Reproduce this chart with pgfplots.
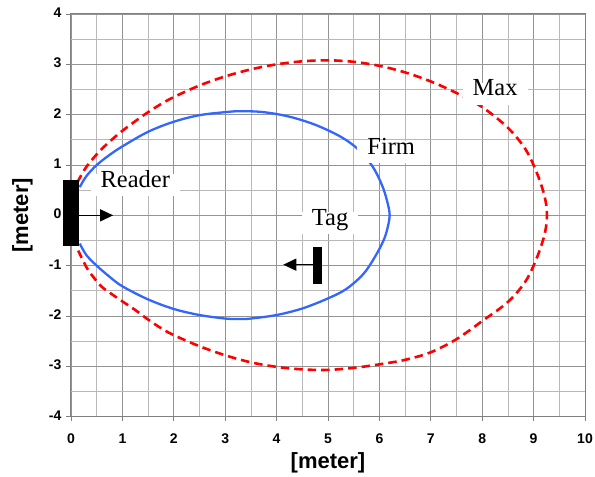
\documentclass[border=0pt]{standalone}
\usepackage{fontspec}
\setmainfont{Liberation Serif}
\setsansfont{Liberation Sans}
\usepackage{pgfplots}
\pgfplotsset{compat=1.18}
\usetikzlibrary{arrows.meta}
\definecolor{firmblue}{RGB}{51,102,255}
\definecolor{maxred}{RGB}{255,0,0}
\begin{document}
\begin{tikzpicture}
\path[use as bounding box] (-71pt,-60.3pt) rectangle (524pt,416.7pt);
\begin{axis}[
  at={(0,0)}, anchor=south west,
  scale only axis, width=514pt, height=402.7pt,
  xmin=0, xmax=10, ymin=-4, ymax=4,
  xtick={0,1,...,10}, ytick={-4,-3,...,4},
  yticklabels={-4,-3,-2,-1,0,1,2,3,4},
  xticklabels={0,1,2,3,4,5,6,7,8,9,10},
  minor xtick={0.5,1.5,...,9.5}, minor ytick={-3.5,-2.5,...,3.5},
  grid=both,
  major grid style={color=black!42, line width=0.8pt},
  minor grid style={color=black!28, line width=0.8pt},
  axis line style={color=black!50, line width=1pt},
  tick style={color=black!50, line width=0.8pt},
  major tick length=4.5pt, minor tick length=0pt,
  tick align=outside,
  xtick pos=bottom, ytick pos=left,
  ticklabel style={font=\sffamily\bfseries\fontsize{14}{16}\selectfont, text height=0.72em, text depth=0pt, inner sep=0pt},
  xticklabel style={anchor=center, yshift=-18.5pt},
  yticklabel style={anchor=east, xshift=-5pt},
  xlabel={[meter]}, ylabel={[meter]},
  label style={font=\sffamily\bfseries\fontsize{22}{26}\selectfont},
  x label style={at={(axis description cs:0.5,-0.115)}, anchor=center},
  y label style={at={(axis description cs:-0.0944,0.5)}, anchor=center, rotate=0},
  clip=false,
]
% Firm (blue)
\addplot[firmblue, line width=2.3pt, smooth, tension=0.55] coordinates {
(0.17,0.56) (0.3,0.78) (0.5,1.0) (0.75,1.2) (1.0,1.37) (1.5,1.66) (2.0,1.86)
(2.5,1.99) (3.0,2.05) (3.3,2.07) (3.75,2.05) (4.25,1.96) (4.75,1.8) (5.25,1.56)
(5.6,1.3) (5.88,0.95) (6.07,0.55) (6.17,0.2) (6.2,0) (6.17,-0.2) (6.1,-0.45)
(5.95,-0.76) (5.7,-1.15) (5.36,-1.46) (5.0,-1.65) (4.5,-1.85) (4.0,-1.98)
(3.5,-2.05) (3.3,-2.06) (3.0,-2.05) (2.5,-1.98) (2.0,-1.86) (1.5,-1.67)
(1.0,-1.41) (0.75,-1.22) (0.5,-1.0) (0.3,-0.79) (0.17,-0.56)
};
% Max (red dashed)
\addplot[maxred, line width=2.6pt, smooth, tension=0.55, dash pattern=on 8.5pt off 5pt] coordinates {
(0.12,0.65) (0.27,0.92) (0.43,1.13) (0.6,1.32) (0.8,1.51) (1.0,1.68) (1.25,1.87)
(1.5,2.05) (1.75,2.21) (2.0,2.35) (2.5,2.58) (3.0,2.76) (3.5,2.9) (4.0,3.0)
(4.5,3.06) (5.0,3.08) (5.5,3.05) (6.0,2.97) (6.5,2.84) (7.0,2.66) (7.5,2.43)
(8.0,2.15) (8.5,1.74) (8.85,1.3) (9.08,0.8) (9.22,0.35) (9.26,0)
(9.22,-0.35) (9.08,-0.8) (8.85,-1.3) (8.5,-1.72) (8.0,-2.1) (7.5,-2.46)
(7.0,-2.72) (6.5,-2.87) (6.0,-2.96) (5.5,-3.03) (5.0,-3.07) (4.5,-3.06)
(4.0,-3.01) (3.5,-2.92) (3.0,-2.78) (2.5,-2.6) (2.0,-2.38) (1.75,-2.24)
(1.5,-2.07) (1.25,-1.88) (1.0,-1.71) (0.8,-1.57) (0.6,-1.42) (0.43,-1.22)
(0.3,-1.03) (0.14,-0.7)
};
% labels
\tikzset{lbl/.style={fill=white, font=\fontsize{24.5}{28}\selectfont, inner xsep=10pt, inner ysep=6.5pt, text height=0.68em, text depth=0.22em}}
\node[lbl] at (axis cs:1.25,0.6) {Reader};
\node[lbl] at (axis cs:6.23,1.26) {Firm};
\node[lbl] at (axis cs:8.25,2.42) {Max};
\node[lbl] at (axis cs:5.04,-0.15) {Tag};
% reader and tag symbols
\fill[black] (axis cs:-0.15,-0.6) rectangle (axis cs:0.16,0.71);
\draw[black, line width=1.2pt, -{Triangle[length=13pt,width=12pt]}] (axis cs:0.16,0) -- (axis cs:0.82,0);
\fill[black] (axis cs:4.71,-1.36) rectangle (axis cs:4.89,-0.62);
\draw[black, line width=1.2pt, -{Triangle[length=13pt,width=12pt]}] (axis cs:4.71,-0.98) -- (axis cs:4.13,-0.98);
\end{axis}
\end{tikzpicture}
\end{document}
